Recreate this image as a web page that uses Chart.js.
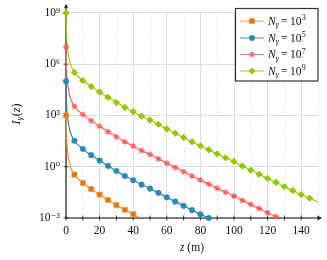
<!DOCTYPE html>
<html><head><meta charset="utf-8">
<script src="https://cdn.jsdelivr.net/npm/chart.js@4.4.1/dist/chart.umd.min.js"></script>
<style>html,body{margin:0;padding:0;background:#fff;}#wrap{width:327px;height:260px;position:relative;}</style>
</head><body><div id="wrap"><canvas id="c"></canvas></div>
<script>
// depth z (m) and log10 of I_gamma(z)
const depthN3 = [0, 0.1, 0.25, 0.5, 1, 2, 3, 5, 10, 15, 20, 25, 30, 35, 40, 44.2];
const log10IN3 = [3, 2.6, 2.0, 1.4, 0.85, 0.25, -0.1, -0.47, -0.95, -1.31, -1.63, -1.95, -2.25, -2.52, -2.78, -3.0];

const depthN5 = [0, 0.1, 0.25, 0.5, 1, 2, 3, 5, 10, 15, 20, 25, 30, 35, 40, 45, 50, 55, 60, 65, 70, 75, 80, 85];
const log10IN5 = [5, 4.6, 4.0, 3.4, 2.85, 2.25, 1.9, 1.52, 1.04, 0.68, 0.36, 0.05, -0.25, -0.54, -0.79, -1.05, -1.28, -1.53, -1.79, -2.04, -2.29, -2.54, -2.78, -3.0];

const depthN7 = [0, 0.1, 0.25, 0.5, 1, 2, 3, 5, 10, 15, 20, 25, 30, 35, 40, 45, 50, 55, 60, 65, 70, 75, 80, 85, 90, 95, 100, 105, 110, 115, 120, 125, 126.5];
const log10IN7 = [7, 6.6, 6.0, 5.4, 4.85, 4.25, 3.9, 3.53, 3.05, 2.69, 2.37, 2.05, 1.75, 1.46, 1.21, 0.95, 0.72, 0.47, 0.21, -0.04, -0.29, -0.54, -0.78, -1.02, -1.26, -1.49, -1.72, -1.97, -2.21, -2.45, -2.69, -2.93, -3.0];

const depthN9 = [0, 0.1, 0.25, 0.5, 1, 2, 3, 5, 10, 15, 20, 25, 30, 35, 40, 45, 50, 55, 60, 65, 70, 75, 80, 85, 90, 95, 100, 105, 110, 115, 120, 125, 130, 135, 140, 145, 150];
const log10IN9 = [9, 8.6, 8.0, 7.4, 6.85, 6.25, 5.9, 5.52, 5.04, 4.69, 4.37, 4.06, 3.76, 3.47, 3.22, 2.96, 2.73, 2.48, 2.21, 1.96, 1.71, 1.46, 1.22, 0.99, 0.75, 0.52, 0.30, 0.04, -0.21, -0.44, -0.69, -0.92, -1.17, -1.40, -1.63, -1.84, -2.06];

const seriesExp = ['3', '5', '7', '9'];
const yTickExp = [-3, 0, 3, 6, 9];
const xTickValues = [0, 20, 40, 60, 80, 100, 120, 140];
const xTitle = ['z', ' (m)'];
const yTitle = ['I', 'γ', '(', 'z', ')'];

const SERIF = '"Liberation Serif", "DejaVu Serif", serif';
const supMap = {'-':'⁻','0':'⁰','1':'¹','2':'²','3':'³','4':'⁴','5':'⁵','6':'⁶','7':'⁷','8':'⁸','9':'⁹'};
const sup = s => String(s).split('').map(c => supMap[c] || c).join('');

function pts(zs, ls) { return zs.map((z, i) => ({x: z, y: Math.pow(10, ls[i])})); }
function markerRadius(r) {
  return ctx => { const x = ctx.raw && ctx.raw.x; return (x % 5 === 0 && x < 150) ? r : 0; };
}
const styles = [
  {line: '#fb8b1e', fill: '#e8700c', border: '#f7a04a', pt: 'rect', r: 3.6, bw: 0.8},
  {line: '#2c8ab2', fill: '#2c8ab2', border: '#2c8ab2', pt: 'circle', r: 2.8, bw: 0.5},
  {line: '#ff5e60', fill: '#ff5e60', border: '#ff5e60', pt: 'star', r: 3.0, bw: 1.1},
  {line: '#9acb00', fill: '#96c800', border: '#8fbf00', pt: 'rectRot', r: 3.2, bw: 0.8}
];
const allPts = [pts(depthN3, log10IN3), pts(depthN5, log10IN5), pts(depthN7, log10IN7), pts(depthN9, log10IN9)];

const datasets = allPts.map((d, i) => ({
  label: 'N_γ = 10^' + seriesExp[i],
  data: d,
  borderColor: styles[i].line,
  borderWidth: 1.2,
  backgroundColor: styles[i].fill,
  pointBackgroundColor: styles[i].fill,
  pointBorderColor: styles[i].border,
  pointBorderWidth: styles[i].bw,
  pointStyle: styles[i].pt,
  pointRadius: markerRadius(styles[i].r),
  pointHoverRadius: 0,
  cubicInterpolationMode: 'monotone',
  fill: false,
  clip: {left: 8, top: 8, right: 0, bottom: 8}
}));

const L = 66, R = 318, T = 10, B = 218;

function drawRuns(c, runs, x, y) {
  runs.forEach(r => {
    c.font = r.font; c.fillText(r.t, x, y + (r.dy || 0)); x += c.measureText(r.t).width + (r.gap || 0);
  });
}
function runsWidth(c, runs) {
  let w = 0; runs.forEach(r => { c.font = r.font; w += c.measureText(r.t).width + (r.gap || 0); }); return w;
}

const decor = {
  id: 'decor',
  beforeDatasetsDraw(chart) {
    const c = chart.ctx, xs = chart.scales.x, ys = chart.scales.y;
    c.save();
    c.strokeStyle = '#d4d4d4'; c.lineWidth = 0.8; c.setLineDash([1, 2]);
    for (let v = 10; v <= 150; v += 20) {
      const px = Math.round(xs.getPixelForValue(v)) + 0.5;
      c.beginPath(); c.moveTo(px, T); c.lineTo(px, B); c.stroke();
    }
    c.setLineDash([]);
    c.strokeStyle = '#111'; c.lineWidth = 1.1;
    c.beginPath(); c.moveTo(L, B); c.lineTo(L, 5); c.stroke();
    c.beginPath(); c.moveTo(L, B); c.lineTo(321, B); c.stroke();
    c.fillStyle = '#111';
    c.beginPath(); c.moveTo(L, 4); c.lineTo(L - 2.2, 8.5); c.lineTo(L, 7.3); c.lineTo(L + 2.2, 8.5); c.closePath(); c.fill();
    c.beginPath(); c.moveTo(322, B); c.lineTo(317.5, B - 2.2); c.lineTo(318.7, B); c.lineTo(317.5, B + 2.2); c.closePath(); c.fill();
    c.lineWidth = 0.8;
    for (let v = 0; v <= 150; v += 10) {
      const px = xs.getPixelForValue(v);
      c.beginPath(); c.moveTo(px, B - 2.5); c.lineTo(px, B + 2.5); c.stroke();
    }
    yTickExp.forEach(e => {
      const py = ys.getPixelForValue(Math.pow(10, e));
      c.beginPath(); c.moveTo(L - 2.5, py); c.lineTo(L + 2.5, py); c.stroke();
    });
    c.restore();
  },
  afterDraw(chart) {
    const c = chart.ctx;
    c.save();
    c.fillStyle = '#111'; c.textBaseline = 'alphabetic'; c.textAlign = 'left';
    const xr = [{t: xTitle[0], font: 'italic 11.5px ' + SERIF}, {t: xTitle[1], font: '11.5px ' + SERIF}];
    drawRuns(c, xr, (L + R) / 2 - runsWidth(c, xr) / 2, 251);
    const yr = [{t: yTitle[0], font: 'italic 12px ' + SERIF, gap: 0.3},
                {t: yTitle[1], font: 'italic 8.5px ' + SERIF, dy: 2.5, gap: 0.6},
                {t: yTitle[2], font: '12px ' + SERIF},
                {t: yTitle[3], font: 'italic 12px ' + SERIF},
                {t: yTitle[4], font: '12px ' + SERIF}];
    c.save(); c.translate(19.5, (T + B) / 2); c.rotate(-Math.PI / 2);
    drawRuns(c, yr, -runsWidth(c, yr) / 2, 0);
    c.restore();
    const bx = 235.5, by = 8.5, bw = 82.5, bh = 72.5;
    c.fillStyle = '#fff'; c.fillRect(bx, by, bw, bh);
    c.strokeStyle = '#333'; c.lineWidth = 1.2; c.strokeRect(bx, by, bw, bh);
    const rows = [21, 38, 54.5, 71];
    rows.forEach((ry, i) => {
      const s = styles[i];
      c.strokeStyle = s.line; c.lineWidth = 1.2; c.globalAlpha = 0.75;
      c.beginPath(); c.moveTo(240, ry); c.lineTo(264, ry); c.stroke();
      c.globalAlpha = 1;
      c.fillStyle = s.fill; c.strokeStyle = s.border; c.lineWidth = s.bw;
      if (Chart.helpers && Chart.helpers.drawPoint) {
        Chart.helpers.drawPoint(c, {pointStyle: s.pt, radius: s.r, rotation: 0, borderWidth: s.bw}, 252, ry);
      }
      c.fillStyle = '#111';
      drawRuns(c, [
        {t: 'N', font: 'italic 11.5px ' + SERIF},
        {t: 'γ', font: 'italic 8px ' + SERIF, dy: 2.4, gap: 2.2},
        {t: '=', font: '11.5px ' + SERIF, gap: 2.5},
        {t: '10', font: '11.5px ' + SERIF, gap: 0.3},
        {t: seriesExp[i], font: '8px ' + SERIF, dy: -4.6}
      ], 268, ry + 3.8);
    });
    c.restore();
  }
};

new Chart(document.getElementById('c'), {
  type: 'line',
  data: {datasets},
  options: {
    responsive: true, maintainAspectRatio: false, animation: false,
    events: [],
    layout: {padding: {left: 0, right: 327 - R, top: T, bottom: 0}},
    plugins: {legend: {display: false}, tooltip: {enabled: false}},
    scales: {
      x: {
        type: 'linear', min: 0, max: 150,
        afterBuildTicks: s => { s.ticks = xTickValues.map(v => ({value: v})); },
        afterFit: s => { s.height = 260 - B; },
        grid: {color: '#dcdcdc', lineWidth: 1, drawTicks: false},
        border: {display: false},
        ticks: {autoSkip: false, maxRotation: 0, padding: 6, color: '#111', font: {family: SERIF, size: 11.5}}
      },
      y: {
        type: 'logarithmic', min: 1e-3, max: 1e9,
        afterBuildTicks: s => { s.ticks = yTickExp.map(e => ({value: Math.pow(10, e)})); },
        afterFit: s => { s.width = L; },
        grid: {color: '#dcdcdc', lineWidth: 1, drawTicks: false},
        border: {display: false},
        ticks: {autoSkip: false, padding: 6, color: '#111', font: {family: SERIF, size: 11.5},
          callback: v => '10' + sup(Math.round(Math.log10(v)))}
      }
    }
  },
  plugins: [decor]
});
</script></body></html>
